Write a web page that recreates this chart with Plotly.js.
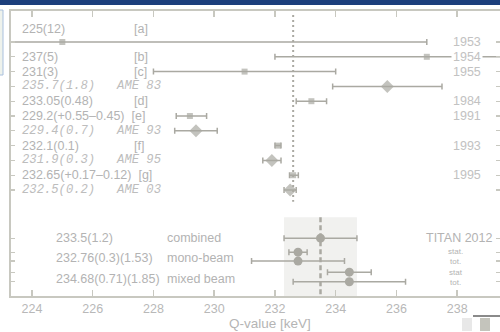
<!DOCTYPE html>
<html>
<head>
<meta charset="utf-8">
<script src="https://cdn.plot.ly/plotly-3.0.1.min.js"></script>
<style>html,body{margin:0;padding:0;overflow:hidden;background:#fff}#chart{width:500px;height:332px}</style>
</head>
<body>
<div id="chart"></div>
<script>
// ---- data ----
const refLabels = ['[a]','[b]','[c]','AME 83','[d]','[e]','AME 93','[f]','AME 95','[g]','AME 03'];
const valueLabels = ['225(12)','237(5)','231(3)','235.7(1.8)','233.05(0.48)','229.2(+0.55\u20130.45)','229.4(0.7)','232.1(0.1)','231.9(0.3)','232.65(+0.17\u20130.12)','232.5(0.2)'];
const qValues = [225.0, 237.0, 231.0, 235.7, 233.2, 229.2, 229.4, 232.1, 231.9, 232.6, 232.5];
const errPlus  = [12, 5, 3, 1.8, 0.5, 0.55, 0.7, 0.1, 0.3, 0.17, 0.2];
const errMinus = [12, 5, 3, 1.8, 0.5, 0.45, 0.7, 0.1, 0.3, 0.12, 0.2];
const years = ['1953','1954','1955','','1984','1991','','1993','','1995',''];
const rowY = [0,1,2,3,4,5,6,7,8,9,10];

const titanLabels = ['233.5(1.2)','232.76(0.3)(1.53)','234.68(0.71)(1.85)'];
const titanNames = ['combined','mono-beam','mixed beam'];
const titanLabelRows = [13.25, 14.6, 16.0];
const titanValues = [233.5, 232.76, 232.76, 234.45, 234.45];
const titanErrors = [1.2, 0.3, 1.53, 0.72, 1.85];
const titanRows = [13.25, 14.2, 14.8, 15.55, 16.2];
const titanTitle = 'TITAN 2012';
const errKinds = ['stat.','tot.','stat','tot.'];

const previousMean = 232.6;   // dotted reference line
const xTicks = [224,226,228,230,232,234,236,238];

// ---- styling ----
const markCol = '#aaa9a2';
const textCol = '#b3b3b3';
const yearCol = '#c2c2c2';
const axisCol = '#c8c8c0';
const sans = 'Liberation Sans, Arial, sans-serif';
const mono = 'Liberation Mono, DejaVu Sans Mono, monospace';

const yRange = [17.16, -2.095];
const allTicks = rowY.concat(titanRows);

const traces = [
  {
    x: qValues, y: rowY, mode: 'markers', type: 'scatter', hoverinfo: 'skip',
    marker: {
      symbol: refLabels.map(r => r.startsWith('AME') ? 'diamond' : 'square'),
      size: refLabels.map(r => r.startsWith('AME') ? 10 : 6),
      color: markCol, line: {width: 0}
    },
    error_x: {type: 'data', symmetric: false, array: errPlus, arrayminus: errMinus,
              color: markCol, thickness: 1.5, width: 3}
  },
  {
    x: titanValues, y: titanRows, mode: 'markers', type: 'scatter', hoverinfo: 'skip',
    marker: {symbol: 'circle', size: 9, color: markCol},
    error_x: {type: 'data', array: titanErrors, color: markCol, thickness: 1.5, width: 3}
  },
  {
    x: [previousMean, previousMean], y: [-1.82, 10.8], mode: 'lines', type: 'scatter', hoverinfo: 'skip',
    line: {color: markCol, width: 2, dash: '2px,3px'}
  },
  {
    x: [titanValues[0], titanValues[0]], y: [11.84, yRange[0]], mode: 'lines', type: 'scatter', hoverinfo: 'skip',
    line: {color: markCol, width: 2.5, dash: '5px,3px'}
  },
  { x: [null], y: [null], yaxis: 'y2', type: 'scatter', mode: 'markers', hoverinfo: 'skip' }
];

const ann = [];
const px = p => (p - 11) / 489;      // pixel column -> paper x
rowY.forEach((r, i) => {
  const isAME = refLabels[i].startsWith('AME');
  const yy = i === 0 ? -0.88 : r;
  if (isAME) {
    ann.push({xref:'paper', yref:'y', x: px(20), y: yy, xanchor:'left', yanchor:'middle', showarrow:false,
      text: valueLabels[i] + '\u00A0\u00A0\u00A0' + refLabels[i],
      font:{family: mono, size: 12.2, color: '#bdbdbd', style: 'italic'}});
  } else if (valueLabels[i].includes('+')) {
    ann.push({xref:'paper', yref:'y', x: px(20), y: yy, xanchor:'left', yanchor:'middle', showarrow:false,
      text: valueLabels[i] + '\u00A0\u00A0' + refLabels[i], font:{family: sans, size: 12.5, color: textCol}});
  } else {
    ann.push({xref:'paper', yref:'y', x: px(20), y: yy, xanchor:'left', yanchor:'middle', showarrow:false,
      text: valueLabels[i], font:{family: sans, size: 12.5, color: textCol}});
    ann.push({xref:'paper', yref:'y', x: px(132), y: yy, xanchor:'left', yanchor:'middle', showarrow:false,
      text: refLabels[i], font:{family: sans, size: 12.5, color: textCol}});
  }
  if (years[i]) {
    ann.push({xref:'paper', yref:'y', x: px(483), y: r, xanchor:'right', yanchor:'middle', showarrow:false,
      text: years[i], bgcolor: '#ffffff', borderpad: 1, font:{family: sans, size: 12.5, color: yearCol}});
  }
});
titanLabels.forEach((t, i) => {
  ann.push({xref:'paper', yref:'y', x: px(54), y: titanLabelRows[i], xanchor:'left', yanchor:'middle', showarrow:false,
    text: t, font:{family: sans, size: 12.5, color: textCol}});
  ann.push({xref:'paper', yref:'y', x: px(165), y: titanLabelRows[i], xanchor:'left', yanchor:'middle', showarrow:false,
    text: titanNames[i], font:{family: sans, size: 12.5, color: textCol}});
});
ann.push({xref:'paper', yref:'y', x: px(495), y: titanRows[0], xanchor:'right', yanchor:'middle', showarrow:false,
  text: titanTitle, font:{family: sans, size: 12.5, color: textCol}});
// the four stat./tot. tags form one stacked block centred on their rows
ann.push({xref:'paper', yref:'y', x: px(455), y: (titanRows[1] + titanRows[4]) / 2, xanchor:'center', yanchor:'middle',
  showarrow:false, align: 'center', borderpad: 0,
  text: errKinds.join('<br>'), font:{family: sans, size: 8, color: textCol}});
ann.push({xref:'paper', yref:'paper', x: px(270), y: (296-332)/285, xanchor:'center', yanchor:'bottom', showarrow:false,
  borderpad: 0, text: 'Q-value [keV]', font:{family: sans, size: 13.5, color: '#b5b5b5'}});

const shapes = [
  {type:'rect', xref:'x', yref:'y', x0: titanValues[0] - titanErrors[0], x1: titanValues[0] + titanErrors[0],
   y0: 11.84, y1: yRange[0], fillcolor:'#f1f1ef', line:{width:0}, layer:'below'},
  // slide decorations around the cropped figure
  {type:'rect', xref:'paper', yref:'paper', x0: px(-2), x1: px(502), y0: 1 + 6/285, y1: 1 + 12/285,
   fillcolor:'#1c3f7c', line:{width:0}},
  {type:'rect', xref:'paper', yref:'paper', x0: px(-2), x1: px(3), y0: (296-75)/285, y1: (296-10)/285,
   fillcolor:'#eef2ec', line:{color:'#a9c0de', width:1}},
  {type:'rect', xref:'paper', yref:'paper', x0: px(462), x1: px(472), y0: (296-331)/285, y1: (296-318)/285,
   fillcolor:'#e8e8e8', line:{width:0}},
  {type:'rect', xref:'paper', yref:'paper', x0: px(480), x1: px(490), y0: (296-331)/285, y1: (296-318)/285,
   fillcolor:'#c4c4bc', line:{width:0}},
  {type:'line', xref:'paper', yref:'paper', x0: px(473), x1: px(500), y0: (296-316)/285, y1: (296-316)/285,
   line:{color:'#8a8a8a', width:2}}
];

const layout = {
  width: 500, height: 332,
  margin: {l: 11, r: 0, t: 11, b: 36},
  paper_bgcolor: '#ffffff', plot_bgcolor: '#ffffff',
  showlegend: false,
  xaxis: {
    range: [223.31, 239.41], tickvals: xTicks, ticks: 'inside', ticklen: 6, tickwidth: 1.5, tickcolor: axisCol,
    showline: true, linecolor: axisCol, linewidth: 2, mirror: 'ticks',
    showgrid: false, zeroline: false,
    tickfont: {family: sans, size: 12.5, color: '#b8b8b8'}
  },
  yaxis: {
    range: yRange, tickvals: allTicks, ticks: 'inside', ticklen: 4, tickwidth: 1.2, tickcolor: axisCol,
    showline: true, linecolor: axisCol, linewidth: 2, showticklabels: false,
    showgrid: false, zeroline: false
  },
  yaxis2: {
    range: yRange, overlaying: 'y', side: 'right', tickvals: allTicks, ticks: 'inside', ticklen: 4, tickwidth: 1.2,
    tickcolor: axisCol, showline: false, showticklabels: false, showgrid: false, zeroline: false
  },
  shapes: shapes,
  annotations: ann
};

Plotly.newPlot('chart', traces, layout, {displayModeBar: false, staticPlot: true});
</script>
</body>
</html>
